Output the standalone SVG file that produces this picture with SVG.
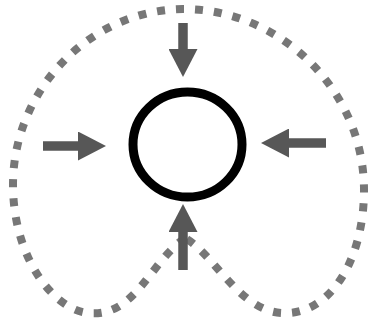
<svg xmlns="http://www.w3.org/2000/svg" width="369" height="331" viewBox="0 0 369 331">
  <style>
    .boundary { fill: none; stroke: #777; stroke-width: 8; stroke-dasharray: 8 11; }
    .node { fill: none; stroke: #000; stroke-width: 9; }
    .arrow { stroke: #575757; stroke-width: 9.5; fill: none; marker-end: url(#head); }
  </style>
  <defs>
    <marker id="head" markerUnits="userSpaceOnUse" markerWidth="29" markerHeight="29" refX="0" refY="14.5" orient="auto">
      <path d="M0,0 L28,14.5 L0,29 Z" fill="#575757"/>
    </marker>
  </defs>
  <rect width="369" height="331" fill="#fff"/>
  <g id="boundary">
    <path class="boundary" d="M185,238 C150,262 135,318 88,313 C55,310 14,260 13,187 C12,90 90,10 183,9 C280,9 364,90 364,190 C364,260 330,315 283,313 C240,312 215,255 185,238 Z"/>
  </g>
  <g id="center-node">
    <ellipse class="node" cx="187.5" cy="144.5" rx="54.5" ry="52.5"/>
  </g>
  <g id="connectors">
    <line class="arrow" x1="183" y1="23" x2="183" y2="49"/>
    <line class="arrow" x1="43" y1="146" x2="78" y2="146"/>
    <line class="arrow" x1="326" y1="143" x2="289" y2="143"/>
    <line class="arrow" x1="183" y1="270" x2="183" y2="232"/>
  </g>
</svg>
